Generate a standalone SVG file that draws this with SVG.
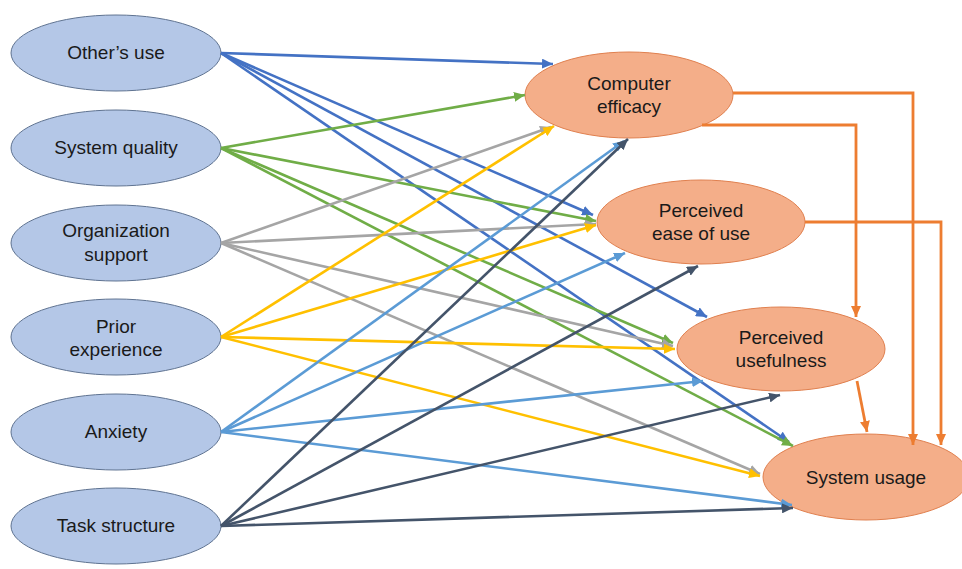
<svg xmlns="http://www.w3.org/2000/svg" width="962" height="569" viewBox="0 0 962 569">
  <style>
    .src ellipse { fill: #B4C7E7; stroke: #5F7391; stroke-width: 1; }
    .dst ellipse { fill: #F4AE89; stroke: #E0804F; stroke-width: 1; }
    text { font-family: "Liberation Sans", Arial, sans-serif; font-size: 19px; fill: #1A1A1A; text-anchor: middle; }
    .edge { fill: none; stroke-width: 2.6; }
    .blue { stroke: #4472C4; }
    .green { stroke: #70AD47; }
    .gray { stroke: #A5A5A5; }
    .yellow { stroke: #FFC000; }
    .lblue { stroke: #5B9BD5; }
    .dark { stroke: #44546A; }
    .orange { stroke: #ED7D31; stroke-width: 2.8; }
  </style>
  <defs>
    <marker id="ah-blue" markerUnits="userSpaceOnUse" markerWidth="12" markerHeight="10" refX="11" refY="5" orient="auto"><path d="M0,0 L11,5 L0,10 z" fill="#4472C4"/></marker>
    <marker id="ah-green" markerUnits="userSpaceOnUse" markerWidth="12" markerHeight="10" refX="11" refY="5" orient="auto"><path d="M0,0 L11,5 L0,10 z" fill="#70AD47"/></marker>
    <marker id="ah-gray" markerUnits="userSpaceOnUse" markerWidth="12" markerHeight="10" refX="11" refY="5" orient="auto"><path d="M0,0 L11,5 L0,10 z" fill="#A5A5A5"/></marker>
    <marker id="ah-yellow" markerUnits="userSpaceOnUse" markerWidth="12" markerHeight="10" refX="11" refY="5" orient="auto"><path d="M0,0 L11,5 L0,10 z" fill="#FFC000"/></marker>
    <marker id="ah-lblue" markerUnits="userSpaceOnUse" markerWidth="12" markerHeight="10" refX="11" refY="5" orient="auto"><path d="M0,0 L11,5 L0,10 z" fill="#5B9BD5"/></marker>
    <marker id="ah-dark" markerUnits="userSpaceOnUse" markerWidth="12" markerHeight="10" refX="11" refY="5" orient="auto"><path d="M0,0 L11,5 L0,10 z" fill="#44546A"/></marker>
    <marker id="ah-orange" markerUnits="userSpaceOnUse" markerWidth="12" markerHeight="10" refX="11" refY="5" orient="auto"><path d="M0,0 L11,5 L0,10 z" fill="#ED7D31"/></marker>
  </defs>

  <rect width="962" height="569" fill="#FFFFFF"/>

  <!-- antecedent factors -->
  <g id="others-use" class="src">
    <ellipse cx="116" cy="53" rx="105" ry="38"/>
    <text x="116" y="59">Other’s use</text>
  </g>
  <g id="system-quality" class="src">
    <ellipse cx="116" cy="148" rx="105" ry="38"/>
    <text x="116" y="154">System quality</text>
  </g>
  <g id="organization-support" class="src">
    <ellipse cx="116" cy="243" rx="105" ry="38"/>
    <text x="116" y="237">Organization</text>
    <text x="116" y="261">support</text>
  </g>
  <g id="prior-experience" class="src">
    <ellipse cx="116" cy="337" rx="105" ry="38"/>
    <text x="116" y="333">Prior</text>
    <text x="116" y="356">experience</text>
  </g>
  <g id="anxiety" class="src">
    <ellipse cx="116" cy="432" rx="105" ry="38"/>
    <text x="116" y="438">Anxiety</text>
  </g>
  <g id="task-structure" class="src">
    <ellipse cx="116" cy="526" rx="105" ry="38"/>
    <text x="116" y="532">Task structure</text>
  </g>

  <!-- outcome constructs -->
  <g id="computer-efficacy" class="dst">
    <ellipse cx="629" cy="95" rx="104" ry="43"/>
    <text x="629" y="90">Computer</text>
    <text x="629" y="113">efficacy</text>
  </g>
  <g id="perceived-ease-of-use" class="dst">
    <ellipse cx="701" cy="222" rx="104" ry="42"/>
    <text x="701" y="217">Perceived</text>
    <text x="701" y="240">ease of use</text>
  </g>
  <g id="perceived-usefulness" class="dst">
    <ellipse cx="781" cy="349" rx="104" ry="42"/>
    <text x="781" y="344">Perceived</text>
    <text x="781" y="367">usefulness</text>
  </g>
  <g id="system-usage" class="dst">
    <ellipse cx="866" cy="477" rx="103" ry="43"/>
    <text x="866" y="484">System usage</text>
  </g>

  <!-- paths between constructs -->
  <g id="connectors">
    <g class="edge blue" marker-end="url(#ah-blue)">
      <line x1="221" y1="53" x2="553" y2="64"/>
      <line x1="221" y1="53" x2="593" y2="215"/>
      <line x1="221" y1="53" x2="707" y2="317"/>
      <line x1="221" y1="53" x2="789" y2="442"/>
    </g>
    <g class="edge green" marker-end="url(#ah-green)">
      <line x1="221" y1="148" x2="525" y2="95"/>
      <line x1="221" y1="148" x2="596" y2="221"/>
      <line x1="221" y1="148" x2="673" y2="343"/>
      <line x1="221" y1="148" x2="793" y2="446"/>
    </g>
    <g class="edge gray" marker-end="url(#ah-gray)">
      <line x1="221" y1="243" x2="551" y2="127"/>
      <line x1="221" y1="243" x2="596" y2="224"/>
      <line x1="221" y1="243" x2="673" y2="346"/>
      <line x1="221" y1="243" x2="760" y2="474"/>
    </g>
    <g class="edge yellow" marker-end="url(#ah-yellow)">
      <line x1="221" y1="337" x2="554" y2="126"/>
      <line x1="221" y1="337" x2="596" y2="225"/>
      <line x1="221" y1="337" x2="675" y2="349"/>
      <line x1="221" y1="337" x2="760" y2="476"/>
    </g>
    <g class="edge lblue" marker-end="url(#ah-lblue)">
      <line x1="221" y1="432" x2="624" y2="141"/>
      <line x1="221" y1="432" x2="625" y2="253"/>
      <line x1="221" y1="432" x2="703" y2="381"/>
      <line x1="221" y1="432" x2="792" y2="505"/>
    </g>
    <g class="edge dark" marker-end="url(#ah-dark)">
      <line x1="221" y1="526" x2="628" y2="139"/>
      <line x1="221" y1="526" x2="698" y2="266"/>
      <line x1="221" y1="526" x2="780" y2="395"/>
      <line x1="221" y1="526" x2="793" y2="508"/>
    </g>
    <g class="edge orange" marker-end="url(#ah-orange)">
      <polyline points="733,93 913,93 913,445"/>
      <polyline points="702,125 856,125 856,317"/>
      <polyline points="805,222 941,222 941,445"/>
      <line x1="857" y1="381" x2="867" y2="432"/>
    </g>
  </g>
</svg>
